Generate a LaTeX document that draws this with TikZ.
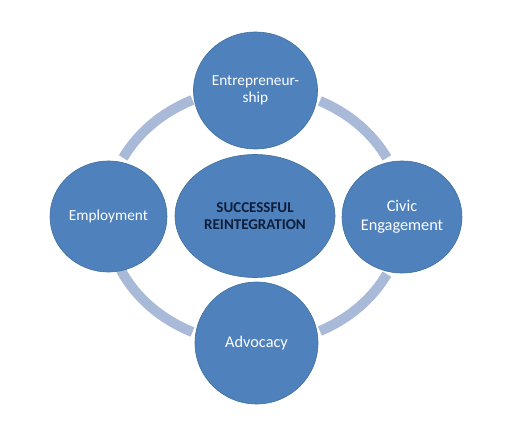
\documentclass[tikz,border=0pt]{standalone}
\usepackage{fontspec}
\setmainfont{Carlito}
\usetikzlibrary{shapes.geometric}
\definecolor{circblue}{HTML}{4F81BD}
\definecolor{circedge}{HTML}{41719C}
\definecolor{ringblue}{HTML}{A9BAD9}
\definecolor{darknavy}{HTML}{0F1E3A}

\begin{document}
\begin{tikzpicture}[
    bubble/.style={
        ellipse, fill=circblue, draw=circedge, line width=0.6pt,
        inner sep=0pt, align=center, text=white,
        font=\fontsize{15.3}{17}\selectfont
    },
    bigtext/.style={
        font=\fontsize{16.3}{19}\selectfont
    },
    ringarc/.style={
        draw=ringblue, line width=10pt
    },
]

% === Canvas ===
\useasboundingbox[fill=white] (0,0) rectangle (520pt,432pt);
\coordinate (ring) at (255pt,216pt);

% === Ring segments between the bubbles ===
\foreach \a/\b in {27/64, 115/153, 205/245, 296/333} {
    \draw[ringarc] (ring) ++(\a:148pt and 128pt)
        arc[start angle=\a, end angle=\b, x radius=148pt, y radius=128pt];
}

% === Centre ===
\node[bubble, minimum width=160pt, minimum height=123pt, text=darknavy,
      font=\bfseries\fontsize{15}{16.5}\selectfont]
      (core) at (ring) {SUCCESSFUL\\REINTEGRATION};

% === Satellites ===
\node[bubble, minimum width=124pt, minimum height=117pt]
      (entre) at (255.5pt,341.5pt) {Entrepreneur-\\ship};
\node[bubble, minimum width=117pt, minimum height=111pt]
      (employ) at (108.5pt,215.5pt) {Employment};
\node[bubble, bigtext, minimum width=120pt, minimum height=112pt]
      (civic) at (402pt,215pt) {Civic\\Engagement};
\node[bubble, bigtext, minimum width=123pt, minimum height=122pt]
      (advoc) at (256.5pt,89pt) {Advocacy};

\end{tikzpicture}
\end{document}
